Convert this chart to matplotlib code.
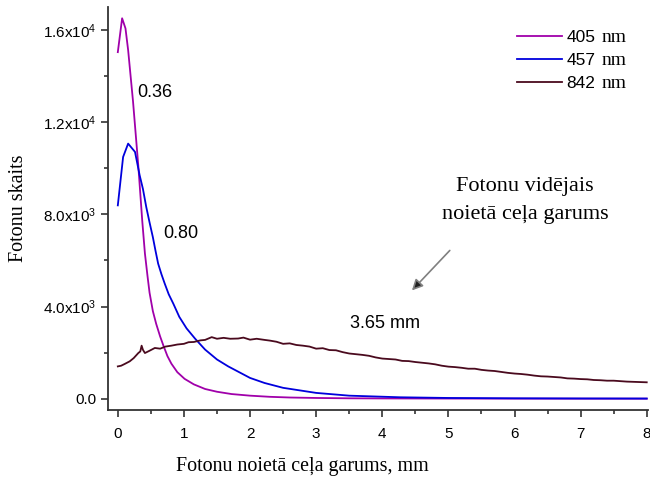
import numpy as np
import matplotlib
matplotlib.use('Agg')
import matplotlib.pyplot as plt
from matplotlib.ticker import MultipleLocator, FixedLocator, FixedFormatter

plt.rcParams['font.family'] = 'Liberation Sans'
plt.rcParams['mathtext.fontset'] = 'custom'
plt.rcParams['mathtext.rm'] = 'Liberation Serif'
plt.rcParams['mathtext.default'] = 'regular'

# 405 nm
x_405 = [0, 0.065, 0.116, 0.156, 0.23, 0.31, 0.37, 0.41, 0.45, 0.48, 0.53, 0.58, 0.64, 0.69, 0.75,
         0.81, 0.9, 1.01, 1.15, 1.32, 1.5, 1.72, 2.0, 2.3, 2.6, 3.0, 3.5, 4, 5, 6, 7, 8]
y_405 = [15040, 16510, 16070, 15130, 12900, 10100, 7700, 6300, 5300, 4600, 3800, 3250, 2700, 2300, 1850,
         1520, 1150, 860, 620, 420, 300, 200, 130, 80, 50, 30, 15, 10, 5, 2, 0, 0]

# 457 nm
x_457 = [0, 0.08, 0.156, 0.26, 0.33, 0.38, 0.43, 0.48, 0.53, 0.57, 0.61, 0.66, 0.71, 0.77, 0.84,
         0.93, 1.04, 1.17, 1.32, 1.5, 1.67, 2.0, 2.22, 2.5, 3.0, 3.5, 4.27, 5, 6, 7, 8]
y_457 = [8390, 10490, 11070, 10710, 9700, 9100, 8320, 7650, 7010, 6420, 5860, 5400, 4990, 4530, 4120,
         3550, 3050, 2600, 2130, 1700, 1400, 900, 680, 470, 250, 130, 60, 30, 15, 8, 5]

# 842 nm
x_842 = [0, 0.05, 0.1, 0.18, 0.24, 0.31, 0.34, 0.36, 0.38, 0.41, 0.48, 0.56, 0.64, 0.72, 0.81, 0.9,
         1.0, 1.07, 1.15, 1.25, 1.32, 1.42, 1.5, 1.6, 1.7, 1.82, 1.9, 2.0, 2.1, 2.22, 2.3, 2.4,
         2.5, 2.6, 2.7, 2.8, 2.9, 3.0, 3.1, 3.2, 3.3, 3.4, 3.5, 3.6, 3.7, 3.8, 3.9, 4.0, 4.1,
         4.2, 4.3, 4.4, 4.5, 4.6, 4.7, 4.8, 4.9, 5.0, 5.1, 5.2, 5.3, 5.4, 5.5, 5.6, 5.7, 5.8,
         5.9, 6.0, 6.1, 6.2, 6.3, 6.4, 6.5, 6.6, 6.7, 6.8, 6.9, 7.0, 7.1, 7.2, 7.3, 7.4, 7.5,
         7.6, 7.7, 7.8, 7.9, 8.0]
y_842 = [1400, 1430, 1500, 1620, 1760, 1980, 2050, 2300, 2120, 1980, 2080, 2200, 2170, 2260, 2300, 2350,
         2380, 2450, 2460, 2530, 2550, 2670, 2600, 2640, 2600, 2610, 2650, 2560, 2600, 2550, 2520, 2470,
         2380, 2400, 2330, 2300, 2260, 2170, 2190, 2110, 2100, 2020, 1960, 1930, 1900, 1860, 1790, 1740, 1720,
         1700, 1640, 1630, 1590, 1560, 1530, 1490, 1430, 1390, 1370, 1340, 1300, 1300, 1250, 1220, 1200, 1160,
         1120, 1090, 1070, 1040, 1000, 970, 960, 940, 920, 880, 870, 850, 840, 810, 800, 780, 780,
         760, 740, 730, 720, 710]

wavelengths = ['405', '457', '842']
y_ticks = [0, 4000, 8000, 12000, 16000]
y_tick_labels = ['0.0', '4.0x10$^{3}$', '8.0x10$^{3}$', '1.2x10$^{4}$', '1.6x10$^{4}$']

fig = plt.figure(figsize=(6.5, 4.99), dpi=100)
ax = fig.add_axes([0.166, 0.178, 0.831, 0.808])

ax.plot(x_405, y_405, color='#a000aa', lw=1.3, label=wavelengths[0])
ax.plot(x_457, y_457, color='#0000dd', lw=1.3, label=wavelengths[1])
ax.plot(x_842, y_842, color='#4a0a1e', lw=1.3, label=wavelengths[2])

ax.set_xlim(-0.15, 8.02)
ax.set_ylim(-500, 17000)
ax.spines['top'].set_visible(False)
ax.spines['right'].set_visible(False)
for s in ['left', 'bottom']:
    ax.spines[s].set_linewidth(1.3)
    ax.spines[s].set_color('#333333')

ax.xaxis.set_major_locator(MultipleLocator(1))
ax.xaxis.set_minor_locator(MultipleLocator(0.5))
ax.yaxis.set_major_locator(FixedLocator(y_ticks))
ax.yaxis.set_major_formatter(FixedFormatter(y_tick_labels))
ax.yaxis.set_minor_locator(MultipleLocator(2000))
ax.tick_params(which='major', direction='out', length=5, width=1.2, labelsize=11, color='#333333')
ax.tick_params(axis='x', which='major', pad=7)
ax.tick_params(which='minor', direction='out', length=3, width=1.2, color='#333333')

ax.set_ylabel('Fotonu skaits', family='Liberation Serif', fontsize=14.5)
ax.yaxis.set_label_coords(-0.148, 0.5)
ax.set_xlabel('Fotonu noietā ceļa garums, mm', family='Liberation Serif', fontsize=14.4)
ax.xaxis.set_label_coords(0.36, -0.117)

ax.text(0.30, 13300, '0.36', fontsize=13, va='center')
ax.text(0.68, 7170, '0.80', fontsize=13, va='center')
ax.text(3.51, 3260, '3.65 mm', fontsize=13, va='center')
ax.text(6.16, 8610, 'Fotonu vidējais\nnoietā ceļa garums', family='Liberation Serif',
        fontsize=16, ha='center', va='center', linespacing=1.65)
ax.annotate('', xy=(4.42, 4610), xytext=(5.05, 6520),
            arrowprops=dict(arrowstyle='-|>', ec='#808080', fc='#222222', lw=1.2, mutation_scale=16))

leg = ax.legend(loc='upper left', bbox_to_anchor=(0.757, 0.943), frameon=False, fontsize=12.5,
                handlelength=2.6, handletextpad=0.25, labelspacing=0.46, borderpad=0, borderaxespad=0)

# "nm" after each legend number, in a serif face like the original
fig.canvas.draw()
renderer = fig.canvas.get_renderer()
W, H = fig.bbox.width, fig.bbox.height
for t in leg.get_texts():
    bb = t.get_window_extent(renderer)
    fig.text((bb.x1 + 6) / W, (bb.y0 + 3.5) / H, 'nm', family='Liberation Serif', fontsize=14,
             ha='left', va='baseline')

fig.savefig('out.png', dpi=100)
